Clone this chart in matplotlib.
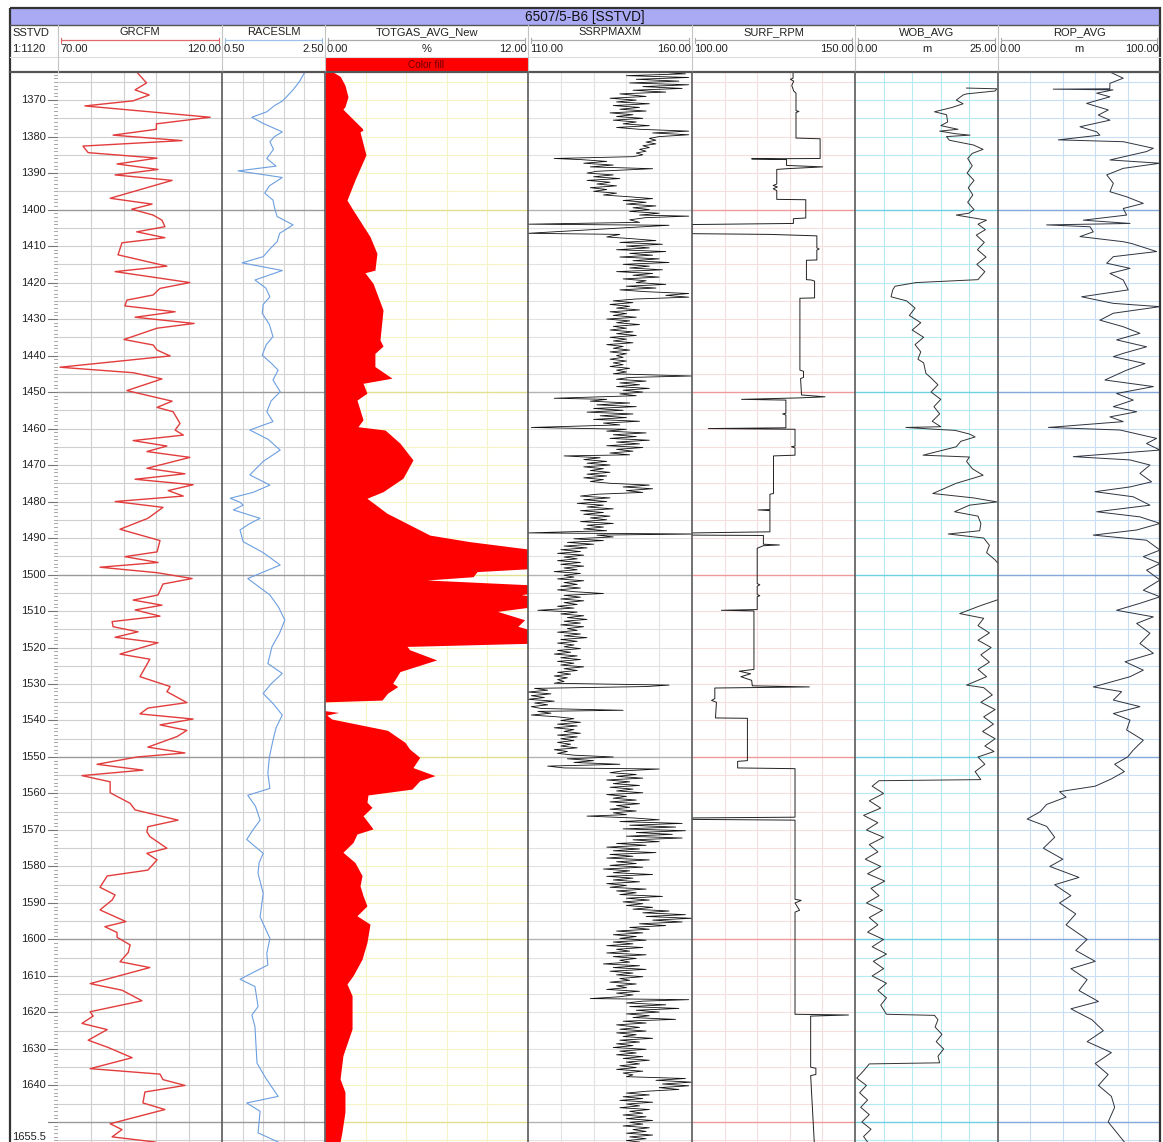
import numpy as np
import matplotlib
matplotlib.use("Agg")
import matplotlib.pyplot as plt
from matplotlib.patches import Rectangle

plt.rcParams['font.family'] = ['Liberation Sans', 'DejaVu Sans']

W, H, DPI = 1163, 1142, 100
TOP_DEPTH, BOTTOM_DEPTH = 1362.3, 1655.5
TITLE = "6507/5-B6 [SSTVD]"
DEPTH_LABELS = [1370, 1380, 1390, 1400, 1410, 1420, 1430, 1440, 1450, 1460, 1470, 1480, 1490,
                1500, 1510, 1520, 1530, 1540, 1550, 1560, 1570, 1580, 1590, 1600, 1610, 1620, 1630, 1640]

TRACK_NAMES = ["GRCFM", "RACESLM", "TOTGAS_AVG_New", "SSRPMAXM", "SURF_RPM", "WOB_AVG", "ROP_AVG"]
TRACK_MIN = [70.0, 0.5, 0.0, 110.0, 100.0, 0.0, 0.0]
TRACK_MAX = [120.0, 2.5, 12.0, 160.0, 150.0, 25.0, 100.0]
TRACK_UNIT = ["", "", "%", "", "", "m", "m"]

GR = [(1362.3,94.0),(1365.3,97.0),(1367.2,93.5),(1368.6,97.8),(1370.2,92.9),(1371.6,78.2),(1374.7,116.4),
      (1376.5,100.0),(1378.0,100.0),(1379.6,86.8),(1381.1,107.8),(1382.6,77.6),(1384.4,79.2),(1385.9,100.2),
      (1387.5,88.0),(1389.0,100.5),(1390.5,87.4),(1392.0,104.8),(1396.9,85.9),(1398.5,98.7),(1399.9,92.5),
      (1401.5,99.0),(1402.9,101.7),(1404.7,102.6),(1406.1,94.0),(1407.7,102.6),(1409.1,89.5),(1412.4,88.3),
      (1415.5,103.2),(1417.0,87.4),(1420.0,110.2),(1421.6,101.1),(1423.4,99.0),(1424.8,91.0),(1426.4,90.4),
      (1428.0,105.7),(1429.5,93.5),(1431.2,111.5),(1432.5,100.2),(1435.6,90.1),(1437.1,99.0),(1438.5,100.2),
      (1440.1,104.2),(1443.2,70.6),(1444.7,92.9),(1446.4,101.7),(1449.6,91.0),(1452.5,104.8),(1454.2,100.2),
      (1455.4,105.1),(1458.6,107.2),(1460.4,105.7),(1461.8,108.2),(1463.3,92.9),(1464.8,103.2),(1466.3,97.1),
      (1467.9,110.2),(1470.9,97.1),(1472.4,108.7),(1473.9,93.5),(1475.4,111.2),(1477.0,103.6),(1478.5,108.2),
      (1480.0,87.4),(1481.6,102.0),(1484.6,97.4),(1487.6,88.9),(1490.7,101.1),(1493.8,100.2),(1495.1,90.4),
      (1496.7,100.5),(1498.0,82.8),(1499.5,100.2),(1501.1,110.9),(1502.6,102.0),(1505.6,100.5),(1507.0,92.9),
      (1508.4,101.7),(1509.7,93.5),(1511.4,101.1),(1512.9,86.5),(1514.3,86.8),(1515.7,94.4),(1517.2,87.4),
      (1518.7,100.5),(1521.8,88.9),(1523.2,98.0),(1528.0,95.0),(1529.6,100.5),(1530.7,104.2),(1532.1,103.2),
      (1535.1,109.3),(1536.6,97.4),(1538.2,95.0),(1539.6,111.2),(1541.2,101.1),(1542.7,109.3),(1544.4,106.3),
      (1547.3,97.4),(1548.9,108.7),(1550.0,94.1),(1552.0,81.9),(1553.6,95.9),(1555.1,77.3),(1556.8,85.9),
      (1559.8,85.9),(1562.7,92.0),(1564.5,93.5),(1567.3,106.6),(1569.1,97.4),(1570.5,97.1),(1571.8,98.0),
      (1575.0,103.2),(1576.4,97.1),(1578.2,100.2),(1581.0,97.4),(1582.6,85.0),(1585.7,82.8),(1587.8,87.4),
      (1589.2,86.5),(1591.9,82.8),(1595.1,90.7),(1596.5,84.3),(1598.1,88.0),(1599.4,88.0),(1601.5,92.0),
      (1603.6,91.4),(1606.1,88.9),(1607.7,98.0),(1612.1,79.8),(1613.9,89.5),(1616.8,95.6),(1619.8,79.8),
      (1621.0,80.7),(1623.0,77.3),(1624.7,85.0),(1627.6,79.2),(1629.6,85.3),(1632.4,92.6),(1635.4,79.8),
      (1636.9,101.1),(1638.4,102.0),(1640.0,108.7),(1641.8,96.5),(1644.8,95.9),(1646.6,102.6),(1650.5,85.9),
      (1652.1,89.5),(1654.1,86.5),(1655.5,99.6)]

RACE = [(1362.3,2.11),(1365.0,2.0),(1367.2,1.88),(1370.2,1.68),(1371.5,1.52),(1373.2,1.37),(1374.7,1.08),
        (1376.4,1.30),(1378.7,1.67),(1380.0,1.52),(1381.4,1.43),(1383.5,1.50),(1386.0,1.37),(1388.1,1.55),
        (1389.4,0.81),(1391.2,1.67),(1393.5,1.42),(1395.5,1.33),(1397.4,1.49),(1399.5,1.52),(1401.9,1.57),
        (1404.2,1.88),(1406.5,1.62),(1408.8,1.57),(1410.5,1.45),(1412.9,1.30),(1414.6,0.89),(1416.7,1.67),
        (1419.3,1.14),(1421.5,1.35),(1423.9,1.43),(1426.0,1.30),(1428.4,1.28),(1431.5,1.42),(1434.8,1.49),
        (1437.0,1.36),(1439.9,1.28),(1442.0,1.45),(1444.0,1.59),(1446.7,1.49),(1449.9,1.63),(1452.5,1.45),
        (1455.4,1.37),(1458.1,1.49),(1460.4,1.04),(1463.0,1.40),(1465.9,1.63),(1469.0,1.30),(1472.7,1.04),
        (1475.5,1.43),(1477.5,1.10),(1479.1,0.66),(1480.2,0.85),(1481.0,0.91),(1482.3,0.72),(1484.6,1.24),
        (1486.2,1.02),(1487.8,0.85),(1491.0,0.91),(1494.0,1.30),(1497.4,1.63),(1501.1,1.00),(1505.6,1.43),
        (1509.0,1.60),(1512.5,1.72),(1516.0,1.62),(1519.8,1.47),(1524.4,1.39),(1527.1,1.67),(1530.0,1.45),
        (1532.6,1.30),(1535.5,1.50),(1538.5,1.67),(1542.0,1.55),(1545.4,1.49),(1550.0,1.42),(1554.5,1.39),
        (1558.6,1.43),(1560.5,1.00),(1563.5,1.15),(1567.3,1.24),(1570.0,1.10),(1572.6,0.98),(1576.4,1.30),
        (1579.0,1.22),(1581.9,1.20),(1587.4,1.30),(1593.8,1.24),(1599.7,1.43),(1603.8,1.37),(1607.0,1.39),
        (1610.9,0.85),(1612.9,1.14),(1618.4,1.20),(1620.7,1.08),(1623.9,1.14),(1633.9,1.18),(1638.0,1.35),
        (1643.0,1.59),(1644.8,0.98),(1647.1,1.24),(1653.0,1.20),(1655.5,1.59)]

TOTGAS = [(1362.3,0.47),(1363.5,0.9),(1365.9,1.18),(1369.1,1.36),(1371.8,1.18),(1372.5,1.06),(1377.7,2.19),
          (1378.2,2.25),(1378.7,2.07),(1385.0,2.42),(1391.9,1.77),(1397.4,1.30),(1399.7,1.60),(1407.4,2.66),
          (1412.0,3.07),(1416.6,2.95),(1417.3,2.36),(1420.2,2.84),(1427.5,3.43),(1435.7,3.25),(1437.4,3.43),
          (1439.4,2.95),(1443.0,2.95),(1446.2,3.96),(1447.6,2.25),(1450.3,2.48),(1452.2,1.89),(1457.6,2.25),
          (1459.5,1.95),(1460.4,3.55),(1464.0,4.43),(1468.6,5.2),(1473.6,4.61),(1477.3,3.43),(1479.1,2.48),
          (1483.2,3.66),(1489.2,6.2),(1491.0,8.57),(1493.3,12.5),(1498.3,12.5),(1499.2,8.99),(1500.6,8.75),
          (1501.5,6.03),(1502.9,12.5),(1505.0,12.5),(1505.5,11.6),(1506.2,12.5),(1508.7,12.5),(1510.1,10.2),
          (1512.4,11.8),(1514.2,11.4),(1515.6,12.5),(1518.8,12.5),(1519.7,4.85),(1520.6,5.0),(1523.4,6.6),
          (1526.6,4.43),(1529.8,4.0),(1530.7,4.3),(1532.5,3.7),(1534.4,3.37),(1534.9,0.0),(1537.3,0.0),
          (1537.8,0.8),(1538.5,0.1),(1539.6,0.4),(1542.7,3.7),(1546.0,4.73),(1547.8,5.0),(1550.1,5.6),
          (1552.9,5.2),(1555.1,6.5),(1556.5,5.6),(1558.8,5.14),(1560.4,2.54),(1562.4,2.48),(1563.8,2.78),
          (1566.1,2.25),(1569.7,2.84),(1571.1,1.89),(1573.4,1.66),(1576.1,1.06),(1578.9,1.77),(1582.5,2.19),
          (1585.3,2.07),(1588.0,2.25),(1590.8,2.48),(1593.5,1.89),(1595.8,2.66),(1600.8,2.48),(1605.4,2.19),
          (1609.9,1.66),(1612.2,1.30),(1615.4,1.60),(1624.5,1.60),(1631.8,1.06),(1638.2,0.89),(1641.8,1.18),
          (1647.3,1.18),(1652.8,1.0),(1655.5,0.89)]

SSRPM = [(1362.3,150),(1362.8,158),(1363.3,140),(1363.8,159),(1364.3,143),(1364.8,156),(1365.3,141),(1365.8,159),
         (1366.3,145),(1366.8,157),(1367.3,142),(1367.8,152),(1368.3,138),(1369.0,146),(1369.5,135),(1370.0,143),
         (1370.5,137),(1371.0,147),(1371.5,136),(1372.0,144),(1372.5,138),(1373.0,146),(1373.5,135),(1374.0,142),
         (1374.5,137),(1375.0,145),(1375.5,136),(1376.0,143),(1376.5,139),(1377.0,147),(1377.5,137),(1378.0,144),
         (1378.5,159),(1379.0,148),(1379.5,159),(1380.0,150),(1380.5,147),(1381.0,149),(1381.5,146),(1382.0,149),
         (1382.5,145),(1383.0,147),(1383.5,144),(1384.0,146),(1384.5,143),(1385.0,145),(1385.5,142),(1386.0,118),
         (1386.3,126),(1386.8,134),(1387.3,127),(1387.8,136),(1388.3,129),(1388.8,148),(1389.5,131),(1390.0,128),
         (1390.5,136),(1391.0,130),(1391.5,138),(1392.0,128),(1392.5,135),(1393.0,131),(1393.5,137),(1394.0,129),
         (1394.5,134),(1395.0,130),(1395.5,137),(1396.0,133),(1396.5,141),(1397.0,148),(1397.5,139),(1398.0,146),
         (1398.5,140),(1399.0,149),(1399.5,142),(1400.0,147),(1400.5,141),(1401.0,150),(1401.5,144),(1401.8,159),
         (1402.2,146),(1402.8,141),(1403.5,144),(1404.0,110),(1404.3,153),(1406.5,110),(1406.8,138),(1407.5,134),
         (1408.0,142),(1408.5,149),(1409.0,138),(1409.5,151),(1410.0,140),(1410.5,147),(1411.0,137),(1411.5,152),
         (1412.0,141),(1412.5,148),(1413.0,138),(1413.5,150),(1414.0,142),(1414.5,153),(1415.0,139),(1415.5,147),
         (1416.0,141),(1416.5,151),(1417.0,137),(1417.5,148),(1418.0,142),(1418.5,150),(1419.0,139),(1419.5,146),
         (1420.0,143),(1420.5,152),(1421.0,140),(1421.5,149),(1422.0,138),(1422.5,146),(1423.0,159),(1423.5,152),
         (1424.0,159),(1424.5,143),(1425.0,136),(1425.5,142),(1426.0,135),(1426.5,141),(1427.0,137),(1427.5,144),
         (1428.0,135),(1428.5,140),(1429.0,136),(1429.5,143),(1430.0,134),(1430.5,141),(1431.0,137),(1431.5,144),
         (1432.0,136),(1432.5,140),(1433.0,135),(1433.5,142),(1434.0,137),(1434.5,143),(1435.0,135),(1435.5,140),
         (1436.0,136),(1436.5,142),(1437.0,134),(1437.5,139),(1438.0,136),(1438.5,141),(1439.0,135),(1439.5,140),
         (1440.0,137),(1440.5,139),(1441.0,135),(1441.5,140),(1442.0,136),(1442.5,139),(1443.0,135),(1443.5,141),
         (1444.0,137),(1444.5,140),(1445.0,136),(1445.6,160),(1446.0,141),(1446.5,137),(1447.0,146),(1447.5,138),
         (1448.0,144),(1448.5,137),(1449.0,147),(1449.5,139),(1450.0,145),(1450.5,138),(1451.0,143),(1451.7,118),
         (1452.0,134),(1452.5,129),(1453.0,141),(1453.5,131),(1454.0,143),(1454.5,130),(1455.0,139),(1455.5,128),
         (1456.0,142),(1456.5,132),(1457.0,140),(1457.5,130),(1458.0,144),(1458.5,133),(1459.0,138),(1459.7,111),
         (1460.2,140),(1460.7,134),(1461.2,146),(1461.7,136),(1462.2,143),(1462.7,135),(1463.2,147),(1463.7,137),
         (1464.2,144),(1464.7,134),(1465.2,145),(1465.7,137),(1466.2,142),(1466.7,135),(1467.2,141),(1467.5,121),
         (1468.0,132),(1468.5,127),(1469.0,134),(1469.5,128),(1470.0,135),(1470.5,127),(1471.0,133),(1471.5,129),
         (1472.0,135),(1472.5,128),(1473.0,134),(1473.5,127),(1474.0,133),(1474.5,129),(1475.0,135),(1475.5,147),
         (1476.0,139),(1476.5,148),(1477.0,140),(1477.5,145),(1478.0,131),(1478.5,126),(1479.0,135),(1479.5,127),
         (1480.0,134),(1480.5,125),(1481.0,133),(1481.5,128),(1482.0,136),(1482.5,126),(1483.0,133),(1483.5,127),
         (1484.0,135),(1484.5,129),(1485.0,134),(1485.5,126),(1486.0,136),(1486.5,128),(1487.0,133),(1487.5,127),
         (1488.0,134),(1488.6,110),(1488.9,162),(1489.2,131),(1489.7,136),(1490.2,124),(1490.7,133),(1491.2,122),
         (1491.7,130),(1492.2,121),(1492.7,128),(1493.2,120),(1493.7,126),(1494.2,119),(1494.7,127),(1495.2,121),
         (1495.7,125),(1496.2,119),(1496.7,126),(1497.2,120),(1497.7,127),(1498.2,121),(1498.7,125),(1499.2,118),
         (1499.7,126),(1500.2,121),(1500.7,124),(1501.2,119),(1501.7,127),(1502.2,121),(1502.7,125),(1503.2,120),
         (1503.7,126),(1504.2,119),(1504.7,124),(1505.2,133),(1505.7,121),(1506.2,126),(1506.7,120),(1507.2,127),
         (1507.7,121),(1508.2,125),(1508.7,119),(1509.2,124),(1509.8,113),(1510.3,125),(1510.8,120),(1511.3,127),
         (1511.8,122),(1512.3,128),(1512.8,121),(1513.3,126),(1513.8,120),(1514.3,127),(1514.8,122),(1515.3,125),
         (1515.8,119),(1516.3,126),(1516.8,121),(1517.3,128),(1517.8,120),(1518.3,125),(1518.8,119),(1519.3,124),
         (1519.8,121),(1520.3,126),(1520.8,119),(1521.3,123),(1521.8,118),(1522.3,125),(1522.8,120),(1523.3,126),
         (1523.8,119),(1524.3,124),(1524.8,120),(1525.3,127),(1525.8,121),(1526.3,125),(1526.8,119),(1527.3,123),
         (1527.8,118),(1528.3,122),(1528.8,119),(1529.3,121),(1529.8,118),(1530.3,153),(1530.7,146),(1531.2,112),
         (1531.7,116),(1532.2,110),(1532.7,117),(1533.2,111),(1533.7,115),(1534.2,110),(1534.7,118),(1535.2,112),
         (1535.7,116),(1536.2,111),(1536.7,114),(1537.2,139),(1537.5,113),(1538.0,117),(1538.5,111),(1539.0,119),
         (1539.5,124),(1540.0,120),(1540.5,126),(1541.0,119),(1541.5,125),(1542.0,118),(1542.5,124),(1543.0,121),
         (1543.5,126),(1544.0,119),(1544.5,125),(1545.0,120),(1545.5,124),(1546.0,119),(1546.5,123),(1547.0,120),
         (1547.5,125),(1548.0,118),(1548.5,122),(1549.0,119),(1549.5,124),(1550.0,136),(1550.5,122),(1551.0,130),
         (1551.5,124),(1552.0,138),(1552.5,116),(1553.0,121),(1553.3,150),(1553.8,139),(1554.3,135),(1554.8,143),
         (1555.3,137),(1555.8,145),(1556.3,134),(1556.8,141),(1557.3,136),(1557.8,144),(1558.3,135),(1558.8,142),
         (1559.3,137),(1559.8,145),(1560.3,134),(1560.8,140),(1561.3,136),(1561.8,143),(1562.3,135),(1562.8,144),
         (1563.3,137),(1563.8,141),(1564.3,135),(1564.8,143),(1565.3,136),(1565.8,140),(1566.2,128),(1566.7,142),
         (1567.2,150),(1567.7,138),(1568.2,157),(1568.7,141),(1569.2,155),(1569.7,139),(1570.2,158),(1570.7,143),
         (1571.2,154),(1571.7,140),(1572.2,157),(1572.7,142),(1573.2,150),(1573.7,137),(1574.2,146),(1574.7,134),
         (1575.2,144),(1575.7,136),(1576.2,149),(1576.7,135),(1577.2,142),(1577.7,134),(1578.2,147),(1578.7,137),
         (1579.2,143),(1579.7,135),(1580.2,145),(1580.7,133),(1581.2,141),(1581.7,136),(1582.2,148),(1582.7,134),
         (1583.2,142),(1583.7,136),(1584.2,144),(1584.7,134),(1585.2,140),(1585.7,135),(1586.2,146),(1586.7,137),
         (1587.2,143),(1587.7,138),(1588.2,151),(1588.7,140),(1589.2,147),(1589.7,139),(1590.2,145),(1590.7,140),
         (1591.2,148),(1591.7,142),(1592.2,153),(1592.7,145),(1593.2,158),(1593.7,146),(1594.2,160),(1594.7,148),
         (1595.2,157),(1595.7,144),(1596.2,152),(1596.7,141),(1597.2,147),(1597.7,137),(1598.2,145),(1598.7,136),
         (1599.2,143),(1599.7,138),(1600.2,146),(1600.7,136),(1601.2,142),(1601.7,134),(1602.2,145),(1602.7,137),
         (1603.2,141),(1603.7,134),(1604.2,146),(1604.7,136),(1605.2,143),(1605.7,138),(1606.2,141),(1606.7,133),
         (1607.2,144),(1607.7,136),(1608.2,146),(1608.7,135),(1609.2,142),(1609.7,137),(1610.2,145),(1610.7,138),
         (1611.2,141),(1611.7,135),(1612.2,143),(1612.7,137),(1613.2,140),(1613.7,134),(1614.2,144),(1614.7,137),
         (1615.2,142),(1615.7,138),(1616.2,129),(1616.5,159),(1616.9,145),(1617.4,140),(1617.9,152),(1618.4,141),
         (1618.9,156),(1619.4,143),(1619.9,150),(1620.4,140),(1620.9,147),(1621.4,142),(1621.9,155),(1622.4,139),
         (1622.9,146),(1623.4,137),(1624.1,144),(1624.6,138),(1625.1,146),(1625.6,137),(1626.1,143),(1626.6,139),
         (1627.1,148),(1627.6,138),(1628.1,144),(1628.6,137),(1629.1,142),(1629.6,136),(1630.1,146),(1630.6,138),
         (1631.1,143),(1631.6,137),(1632.1,145),(1632.6,139),(1633.1,147),(1633.6,140),(1634.1,144),(1634.6,138),
         (1635.1,143),(1635.6,137),(1636.1,145),(1636.6,139),(1637.1,142),(1637.6,140),(1638.1,158),(1638.6,149),
         (1639.1,160),(1639.6,151),(1640.1,159),(1640.6,150),(1641.1,156),(1641.6,146),(1642.1,140),(1642.6,147),
         (1643.1,139),(1643.6,145),(1644.1,138),(1644.6,148),(1645.1,140),(1645.6,144),(1646.1,138),(1646.6,147),
         (1647.1,141),(1647.6,145),(1648.1,139),(1648.6,146),(1649.1,140),(1649.6,148),(1650.1,141),(1650.6,145),
         (1651.1,139),(1651.6,147),(1652.1,142),(1652.6,146),(1653.1,140),(1653.6,148),(1654.1,141),(1654.6,146),
         (1655.1,140),(1655.5,144)]

SURF = [(1362.3,131.0),(1364.0,131.0),(1364.3,130.2),(1364.8,131.2),(1366.0,130.6),(1367.5,131.2),(1368.1,131.9),
        (1372.9,131.9),(1373.1,132.8),(1373.4,131.9),(1380.4,131.9),(1380.6,139.3),(1386.0,139.3),(1386.1,118.3),
        (1386.3,129.0),(1387.9,129.0),(1388.3,140.1),(1388.8,129.0),(1389.0,126.0),(1393.0,126.0),(1393.4,124.9),
        (1393.8,126.2),(1394.3,124.9),(1394.8,126.0),(1397.2,126.0),(1397.3,134.9),(1402.3,134.9),(1402.5,131.1),
        (1403.8,131.1),(1404.1,100.0),(1406.6,100.0),(1406.8,123.9),(1407.2,138.3),(1410.5,138.3),(1410.8,139.0),
        (1411.1,138.3),(1413.8,138.3),(1413.9,135.1),(1419.2,135.1),(1419.3,136.6),(1419.6,137.6),(1424.2,137.6),
        (1424.3,133.1),(1444.0,133.1),(1444.3,134.2),(1446.0,134.2),(1446.3,133.3),(1450.8,133.6),(1451.3,140.8),
        (1451.6,133.0),(1452.0,115.2),(1452.2,128.8),(1455.8,128.8),(1456.0,127.8),(1456.3,128.8),(1459.8,128.8),
        (1460.0,105.0),(1460.2,131.6),(1464.8,131.6),(1465.0,130.5),(1465.3,131.6),(1467.3,131.6),(1467.5,125.0),
        (1477.8,125.0),(1478.0,123.9),(1482.2,123.9),(1482.3,120.3),(1482.5,123.9),(1488.3,123.9),(1488.6,100.0),
        (1489.2,100.0),(1489.3,121.9),(1491.7,121.9),(1491.9,126.8),(1492.1,121.9),(1492.8,120.0),(1502.5,120.0),
        (1502.8,120.8),(1503.2,120.0),(1505.5,120.0),(1505.8,120.8),(1506.1,120.0),(1509.6,120.0),(1509.8,109.0),
        (1510.0,119.0),(1526.0,119.0),(1526.5,114.5),(1527.2,118.0),(1528.0,115.0),(1529.0,118.3),(1530.5,118.5),
        (1530.8,136.0),(1531.1,107.0),(1534.0,107.0),(1534.5,106.0),(1535.0,107.5),(1539.3,107.2),(1539.4,117.0),
        (1551.0,117.0),(1551.2,114.0),(1553.0,114.0),(1553.2,131.6),(1566.5,131.6),(1566.7,100.0),(1567.1,100.0),
        (1567.3,131.6),(1589.0,131.6),(1589.3,133.5),(1590.0,131.6),(1592.0,133.0),(1592.5,131.6),(1620.5,131.6),
        (1620.7,148.0),(1621.0,136.4),(1635.0,136.4),(1635.3,138.0),(1637.0,138.0),(1637.3,136.4),(1655.5,137.5)]

WOB = [(1366.7,19.5),(1366.9,24.8),(1367.5,24.5),(1368.3,19.5),(1368.6,18.9),(1370.0,17.7),(1371.0,18.9),
       (1372.0,17.0),(1373.2,13.9),(1374.0,16.0),(1376.0,16.2),(1377.0,15.0),(1378.0,18.0),(1378.5,14.8),
       (1379.2,17.5),(1379.6,20.1),(1380.0,16.0),(1381.0,16.5),(1382.3,20.7),(1383.5,22.4),(1384.6,20.5),
       (1386.0,19.7),(1388.0,20.5),(1390.0,19.6),(1392.0,20.8),(1394.0,19.8),(1396.0,20.6),(1398.0,19.7),
       (1400.0,20.8),(1401.0,19.9),(1401.5,17.7),(1402.9,23.0),(1404.0,21.5),(1405.5,22.8),(1407.0,21.2),
       (1409.0,22.6),(1411.0,21.4),(1413.0,22.9),(1415.0,21.3),(1417.0,22.7),(1419.2,21.5),(1420.0,10.7),
       (1421.0,7.0),(1422.0,6.6),(1423.9,6.3),(1425.0,9.0),(1427.0,10.5),(1429.0,9.5),(1431.0,11.5),
       (1433.0,10.0),(1435.0,12.0),(1437.0,10.5),(1439.0,11.5),(1441.0,11.0),(1442.0,12.0),(1444.9,12.4),
       (1446.0,13.2),(1448.0,14.5),(1450.0,13.3),(1452.0,15.0),(1454.0,13.8),(1456.0,14.8),(1458.0,13.5),
       (1459.5,15.0),(1459.7,8.9),(1460.2,14.0),(1460.5,17.5),(1461.5,20.0),(1462.3,21.0),(1463.5,18.5),
       (1465.0,17.7),(1467.3,11.9),(1467.8,20.0),(1469.0,19.5),(1471.0,20.5),(1472.8,22.4),(1475.0,17.7),
       (1477.8,13.6),(1479.0,20.7),(1480.1,24.8),(1481.0,20.0),(1482.8,17.4),(1484.0,21.5),(1486.0,22.0),
       (1488.0,21.8),(1488.9,16.3),(1490.0,22.5),(1492.0,23.5),(1494.0,23.0),(1496.0,24.5),(1497.9,25.5),
       (1500.0,27.0),(1503.0,28.0),(1506.0,26.0),(1507.0,24.8),(1508.5,22.0),(1510.7,18.3),(1512.0,22.5),
       (1514.0,21.5),(1516.0,23.5),(1518.0,21.5),(1520.0,23.8),(1522.0,22.0),(1524.0,23.5),(1526.0,21.5),
       (1528.0,23.0),(1530.3,19.5),(1531.0,22.5),(1533.0,24.0),(1535.0,22.0),(1537.0,24.5),(1539.0,22.5),
       (1541.0,24.2),(1543.0,22.3),(1545.0,24.5),(1547.0,22.7),(1548.5,24.3),(1550.0,21.5),(1552.0,22.7),
       (1554.0,21.0),(1556.2,22.0),(1556.5,4.2),(1558.0,3.0),(1560.0,5.0),(1562.0,2.5),(1564.0,4.5),
       (1566.0,1.5),(1568.0,4.0),(1570.0,2.0),(1572.0,5.0),(1574.0,2.5),(1576.0,4.0),(1578.0,1.8),
       (1580.0,4.5),(1582.0,2.2),(1584.0,5.2),(1586.0,2.8),(1588.0,4.2),(1590.0,2.0),(1592.0,4.8),
       (1594.0,2.5),(1596.0,4.0),(1598.0,2.2),(1600.0,5.0),(1602.0,3.0),(1604.0,5.5),(1606.0,3.2),
       (1608.0,5.0),(1610.0,3.0),(1612.0,5.5),(1614.0,4.0),(1616.0,5.5),(1618.0,4.5),(1620.5,5.5),
       (1620.8,13.9),(1622.0,14.5),(1624.0,14.0),(1626.0,15.2),(1628.0,14.2),(1630.0,15.5),(1632.0,14.5),
       (1633.8,14.8),(1634.1,2.5),(1636.0,1.5),(1638.0,0.3),(1640.0,2.0),(1642.0,0.8),(1644.0,2.2),
       (1646.0,1.0),(1648.0,2.5),(1650.0,1.2),(1652.0,2.8),(1654.0,1.5),(1655.5,2.2)]

ROP = [(1362.3,69.1),(1364.0,77.3),(1365.4,69.1),(1366.9,69.0),(1367.0,34.1),(1367.2,71.0),(1368.1,60.9),
       (1369.1,69.1),(1370.9,54.7),(1372.7,68.1),(1374.1,61.9),(1375.5,69.1),(1377.3,50.6),(1378.7,60.9),
       (1379.6,62.9),(1380.9,37.2),(1381.4,77.3),(1383.2,95.9),(1384.1,91.7),(1386.4,69.1),(1387.3,100.0),
       (1388.7,77.3),(1390.5,67.1),(1392.8,71.2),(1395.1,69.1),(1396.5,79.4),(1398.3,89.7),(1399.7,77.3),
       (1401.5,79.4),(1402.9,52.7),(1403.8,81.5),(1404.2,30.0),(1404.7,56.8),(1406.1,58.8),(1407.4,50.6),
       (1408.8,77.3),(1409.3,82.5),(1411.5,97.9),(1412.9,71.2),(1414.7,67.1),(1416.1,81.5),(1417.5,69.1),
       (1419.3,77.3),(1422.0,80.4),(1423.9,51.6),(1425.7,71.2),(1426.6,100.0),(1428.4,71.2),(1430.3,62.9),
       (1432.1,77.3),(1433.9,87.6),(1435.7,73.2),(1437.6,91.7),(1439.4,77.3),(1440.3,71.2),(1442.2,90.7),
       (1444.0,79.4),(1446.7,66.0),(1448.5,95.9),(1450.4,73.2),(1452.2,83.5),(1454.0,71.2),(1455.4,85.6),
       (1456.8,69.1),(1458.1,77.3),(1459.7,31.1),(1460.4,75.3),(1462.7,97.9),(1464.1,91.7),(1465.9,100.0),
       (1467.7,46.5),(1468.6,81.5),(1470.0,93.8),(1472.3,87.6),(1474.6,94.8),(1476.0,81.5),(1477.3,59.9),
       (1478.7,83.5),(1481.0,93.8),(1482.8,60.9),(1484.2,87.6),(1486.0,100.0),(1487.8,85.6),(1489.2,58.8),
       (1490.6,91.7),(1493.3,100.0),(1495.1,89.7),(1497.0,100.0),(1498.8,91.7),(1501.5,100.0),(1504.3,89.7),
       (1506.1,100.0),(1507.9,87.6),(1509.8,73.2),(1511.6,95.9),(1513.4,85.6),(1516.1,93.8),(1518.9,87.6),
       (1521.6,95.9),(1523.9,78.4),(1526.2,89.7),(1528.0,81.5),(1530.8,58.8),(1532.1,76.3),(1534.4,71.2),
       (1536.2,87.6),(1538.1,71.2),(1539.9,81.5),(1542.6,79.4),(1545.4,89.7),(1548.1,83.5),(1550.0,80.0),
       (1552.0,72.0),(1554.0,78.0),(1556.0,70.0),(1558.0,60.0),(1559.5,38.0),(1561.0,42.0),(1563.0,30.0),
       (1565.0,26.0),(1567.0,18.0),(1569.0,30.0),(1572.0,35.0),(1575.0,28.0),(1578.0,40.0),(1580.0,32.0),
       (1583.0,50.0),(1585.0,35.0),(1588.0,45.0),(1590.0,38.0),(1593.0,48.0),(1596.0,42.0),(1600.0,55.0),
       (1603.0,48.0),(1606.0,60.0),(1608.0,45.0),(1611.0,55.0),(1614.0,50.0),(1617.0,62.0),(1619.0,45.0),
       (1622.0,58.0),(1625.0,65.0),(1628.0,55.0),(1631.0,70.0),(1634.0,60.0),(1637.0,68.0),(1640.0,62.0),
       (1643.0,70.0),(1646.0,72.0),(1650.0,68.0),(1655.5,78.0)]

# ---------------- geometry (pixels) ----------------
FRAME_L, FRAME_R, FRAME_T = 10, 1160, 8
TITLE_B, NAME_B, VAL_B, DATA_T, DATA_B = 25, 41, 57, 72, 1142
DEPTH_X0, DEPTH_X1 = 10, 58
TRACK_X = [(58, 222), (222, 325), (325, 528), (528, 692), (692, 855), (855, 998), (998, 1160)]
GRID_MINOR = ['#cfcfcf', '#d4d4d4', '#f4f4c6', '#e2e2e2', '#f6dede', '#b5eaf2', '#c9def2']
GRID_MAJOR = ['#9a9a9a', '#9a9a9a', '#e0e090', '#b4b4b4', '#ef9a9a', '#6fd0e2', '#84a8da']
SCALE_COL = ['#e06a6a', '#9cc0ea', '#aaaaaa', '#aaaaaa', '#aaaaaa', '#aaaaaa', '#aaaaaa']
HFS = 8.0

fig = plt.figure(figsize=(W / DPI, H / DPI), dpi=DPI)
fig.patch.set_facecolor('white')


def add_px_axes(x0, x1, y0, y1, **kw):
    return fig.add_axes([x0 / W, 1 - y1 / H, (x1 - x0) / W, (y1 - y0) / H], **kw)


def split(pairs):
    d = np.array([p[0] for p in pairs], float)
    v = np.array([p[1] for p in pairs], float)
    return d, v


track_axes = []
for i, (x0, x1) in enumerate(TRACK_X):
    ax = add_px_axes(x0, x1, DATA_T, DATA_B)
    ax.set_xlim(TRACK_MIN[i], TRACK_MAX[i])
    ax.set_ylim(BOTTOM_DEPTH, TOP_DEPTH)
    ax.set_xticks([]); ax.set_yticks([])
    for s in ax.spines.values():
        s.set_visible(False)
    span = TRACK_MAX[i] - TRACK_MIN[i]
    for k in range(1, 5):
        ax.axvline(TRACK_MIN[i] + span * k / 5, color=GRID_MINOR[i], lw=0.8, zorder=0)
    for dd in range(1365, 1656, 5):
        major = dd % 50 == 0
        ax.axhline(dd, color=GRID_MAJOR[i] if major else GRID_MINOR[i], lw=1.0 if major else 0.8, zorder=0)
    track_axes.append(ax)

ax_gr, ax_rc, ax_tg, ax_ss, ax_sr, ax_wb, ax_rp = track_axes

d, v = split(GR);     ax_gr.plot(v, d, color='#e23c3c', lw=1.0)
d, v = split(RACE);   ax_rc.plot(v, d, color='#6c9fe0', lw=0.8)
d, v = split(TOTGAS); ax_tg.fill_betweenx(d, 0, v, color='#ff0000', lw=0)
d, v = split(SSRPM);  ax_ss.plot(v, d, color='#111111', lw=0.6)
d, v = split(SURF);   ax_sr.plot(v, d, color='#222222', lw=0.7)
d, v = split(WOB);    ax_wb.plot(v, d, color='#333333', lw=0.7)
d, v = split(ROP);    ax_rp.plot(v, d, color='#2e3440', lw=0.7)

# depth track
axd = add_px_axes(DEPTH_X0, DEPTH_X1, DATA_T, DATA_B)
axd.set_xlim(0, DEPTH_X1 - DEPTH_X0)
axd.set_ylim(BOTTOM_DEPTH, TOP_DEPTH)
axd.set_xticks([]); axd.set_yticks([])
for s in axd.spines.values():
    s.set_visible(False)
w = DEPTH_X1 - DEPTH_X0
for dd in range(1363, 1656):
    if dd % 10 == 0:
        axd.plot([w - 10, w], [dd, dd], color='#777777', lw=0.8)
    else:
        axd.plot([w - 4, w], [dd, dd], color='#999999', lw=0.6)
for dd in DEPTH_LABELS:
    axd.text(w - 12, dd, str(dd), ha='right', va='center', fontsize=8, color='#222222')
axd.text(w - 12, BOTTOM_DEPTH, "1655.5", ha='right', va='bottom', fontsize=8, color='#222222')
axd.axvline(w, color='#c8c8c8', lw=0.8)

# header / frame overlay in pixel coordinates
hdr = fig.add_axes([0, 0, 1, 1], zorder=10)
hdr.set_xlim(0, W); hdr.set_ylim(H, 0); hdr.axis('off')
hdr.add_patch(Rectangle((FRAME_L, FRAME_T), FRAME_R - FRAME_L, TITLE_B - FRAME_T,
                        facecolor='#a9a9f4', edgecolor='none'))
hdr.text((FRAME_L + FRAME_R) / 2, (FRAME_T + TITLE_B) / 2 + 0.5, TITLE, ha='center', va='center',
         fontsize=9.8, color='#111111')
hdr.plot([FRAME_L, FRAME_R], [TITLE_B, TITLE_B], color='#555555', lw=1.0)
hdr.plot([FRAME_L, FRAME_R], [VAL_B, VAL_B], color='#dddddd', lw=0.8)
hdr.plot([FRAME_L, FRAME_R], [DATA_T, DATA_T], color='#555555', lw=1.6)
for xb in [DEPTH_X1] + [t[1] for t in TRACK_X[:-1]]:
    hdr.plot([xb, xb], [TITLE_B, DATA_T], color='#c4c4c4', lw=0.8)
hdr.text(DEPTH_X0 + 2, (TITLE_B + NAME_B) / 2, "SSTVD", ha='left', va='center', fontsize=HFS, color='#222222')
hdr.text(DEPTH_X0 + 2, (NAME_B + VAL_B) / 2 + 0.5, "1:1120", ha='left', va='center', fontsize=HFS, color='#222222')
for i, (x0, x1) in enumerate(TRACK_X):
    hdr.text((x0 + x1) / 2, (TITLE_B + NAME_B) / 2 - 1, TRACK_NAMES[i], ha='center', va='center',
             fontsize=HFS, color='#222222')
    hdr.plot([x0 + 3, x1 - 3], [NAME_B - 1, NAME_B - 1], color=SCALE_COL[i], lw=0.9)
    for xe in (x0 + 3, x1 - 3):
        hdr.plot([xe, xe], [NAME_B - 3.5, NAME_B + 1.5], color=SCALE_COL[i], lw=0.8)
    ymid = (NAME_B + VAL_B) / 2 + 0.5
    hdr.text(x0 + 2, ymid, f"{TRACK_MIN[i]:.2f}", ha='left', va='center', fontsize=HFS, color='#222222')
    hdr.text(x1 - 1, ymid, f"{TRACK_MAX[i]:.2f}", ha='right', va='center', fontsize=HFS, color='#222222')
    if TRACK_UNIT[i]:
        hdr.text((x0 + x1) / 2, ymid, TRACK_UNIT[i], ha='center', va='center', fontsize=HFS, color='#222222')
# colour-fill legend box
gx0, gx1 = TRACK_X[2]
hdr.add_patch(Rectangle((gx0, VAL_B + 1), gx1 - gx0, DATA_T - VAL_B - 1, facecolor='#ff0000', edgecolor='none'))
hdr.text((gx0 + gx1) / 2, (VAL_B + DATA_T) / 2 + 0.5, "Color fill", ha='center', va='center',
         fontsize=7.2, color='#6e0000')
# data-area track borders
for xb in [t[1] for t in TRACK_X[:-1]]:
    hdr.plot([xb, xb], [DATA_T, DATA_B], color='#5a5a5a', lw=1.2)
# outer frame
hdr.add_patch(Rectangle((FRAME_L, FRAME_T), FRAME_R - FRAME_L, DATA_B - FRAME_T + 2,
                        facecolor='none', edgecolor='#333333', lw=1.6))

fig.savefig("out.png", dpi=DPI, facecolor='white')
